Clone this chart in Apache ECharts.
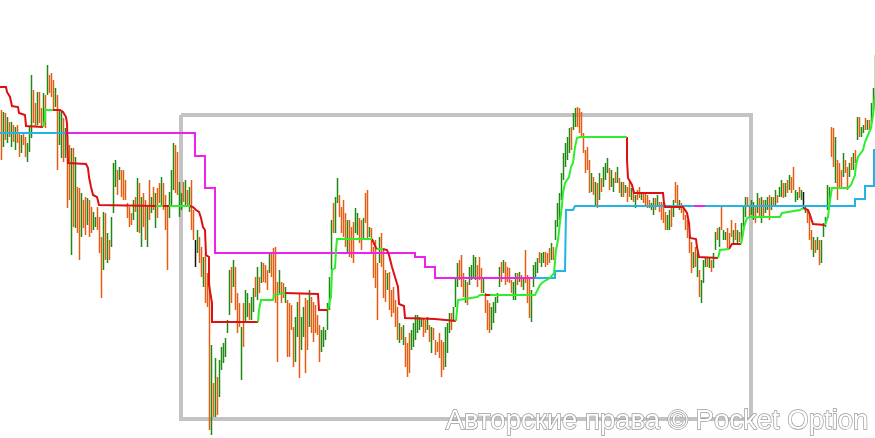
<!DOCTYPE html>
<html>
<head>
<meta charset="utf-8">
<script src="https://cdn.jsdelivr.net/npm/echarts@6/dist/echarts.min.js"></script>
<style>
  html, body { margin: 0; padding: 0; background: #fff; }
  #chart { width: 875px; height: 438px; }
</style>
</head>
<body>
<div id="chart"></div>
<script>
// price bars: top / bottom of every bar (axis units, y axis inverted), 0 = down, 1 = up, 2 = doji
const barTop = [
  110,112,113,117,122,122,125,127,125,132,135,133,137,143,127,75,90,103,92,92,108,93,95,65,75,73,80,88,95,110,
  112,118,128,135,145,148,148,157,187,188,193,200,197,198,200,207,212,217,207,217,237,212,213,233,240,217,163,160,170,167,
  170,170,180,203,207,213,200,197,178,183,197,193,200,
  207,180,197,187,193,188,183,177,183,195,205,192,170,143,145,152,182,193,182,180,190,187,180,210,240,230,237,247,257,253,
  273,283,345,383,358,377,360,347,343,338,320,270,267,260,267,293,303,327,303,290,293,303,297,288,277,267,277,262,263,265,
  270,253,252,248,247,282,270,282,283,287,300,303,305,
  327,317,302,293,317,307,298,300,290,297,302,305,315,325,330,327,330,303,277,220,203,197,178,195,207,200,213,220,220,227,
  222,208,213,218,220,218,193,190,227,228,247,240,263,237,233,250,270,273,272,290,287,300,307,323,327,325,337,343,333,330,
  323,315,315,317,318,318,320,317,325,327,328,340,342,
  333,340,342,327,323,313,313,307,277,263,260,255,273,280,282,267,265,255,257,265,257,268,277,293,300,303,307,302,297,293,
  267,262,260,262,267,268,280,282,273,273,272,275,277,250,275,277,290,265,262,258,252,253,252,252,253,248,243,247,220,203,
  193,173,153,143,137,128,127,113,108,107,108,112,133,
  150,147,160,173,177,182,183,173,178,167,163,158,168,170,178,172,167,178,182,182,185,187,182,188,190,195,190,187,192,192,
  193,195,200,203,198,198,195,202,202,203,212,215,210,207,200,182,185,200,203,208,215,220,235,242,252,247,253,270,280,260,
  257,257,258,260,253,232,228,227,207,230,232,228,233,
  220,230,223,230,232,223,207,197,197,205,200,202,207,193,198,197,200,200,197,195,197,197,190,195,187,180,183,183,180,175,
  177,167,190,192,187,190,192,205,210,213,230,237,240,237,240,240,223,217,185,187,127,128,137,160,163,170,153,160,167,163,
  157,153,150,117,117,127,125,118,120,120,103,88,55
];
const barBottom = [
  160,147,140,143,137,147,142,150,143,157,153,145,157,162,152,138,123,127,125,123,128,127,128,95,93,97,110,107,170,145,
  158,162,158,208,200,255,227,228,233,260,237,228,235,225,237,233,230,227,230,253,298,270,260,263,260,247,213,187,195,180,
  197,200,200,218,227,225,220,212,232,233,247,227,240,
  247,220,213,210,228,218,203,207,210,230,270,218,207,190,193,195,217,210,202,205,207,212,230,240,267,253,263,277,287,303,
  307,430,435,417,417,415,397,370,363,357,333,315,303,287,310,333,327,380,347,323,317,320,320,312,297,300,293,283,282,283,
  290,273,277,297,303,362,293,303,298,303,357,357,330,
  367,362,337,378,350,337,373,350,327,333,342,333,335,362,352,347,340,330,310,270,233,233,203,217,233,237,247,253,257,258,
  263,233,235,243,250,238,223,238,237,252,278,288,320,263,267,298,302,290,310,317,313,327,340,343,340,345,367,377,373,350,
  347,340,333,330,327,337,333,330,342,353,340,355,352,
  358,377,370,367,353,333,330,320,307,287,280,287,297,303,305,285,280,277,280,287,280,293,293,313,330,333,330,323,313,303,
  287,282,273,285,282,283,293,300,300,285,282,287,290,283,303,318,322,287,277,273,263,267,263,267,265,263,260,260,240,227,
  220,200,180,167,160,153,150,130,127,127,133,137,153,
  173,170,193,192,195,207,208,200,192,187,180,173,190,187,192,183,183,193,197,197,193,202,197,200,202,208,200,198,200,203,
  205,208,208,210,215,210,205,212,220,223,230,230,230,227,217,203,207,210,213,220,230,238,253,273,268,267,277,297,303,283,
  267,267,268,272,268,250,240,247,230,240,240,248,247,
  237,243,240,243,242,240,227,217,207,217,215,220,223,213,217,223,217,213,210,220,210,207,207,203,197,197,198,197,193,190,
  193,190,202,200,198,200,208,213,223,240,250,257,253,250,265,263,237,227,210,207,157,167,183,200,188,187,177,173,190,177,
  170,170,163,140,137,137,133,130,130,130,122,110,107
];
const barDir = [
  0,1,0,1,0,1,0,1,0,0,1,0,0,1,1,1,0,0,1,0,0,1,0,1,0,0,0,1,0,1,
  1,0,1,0,0,1,0,1,0,0,1,0,0,1,0,0,1,1,0,0,0,1,0,1,0,1,1,1,0,1,
  0,0,0,0,0,0,1,0,1,0,1,0,0,
  1,0,1,0,1,0,0,1,0,0,0,1,1,1,0,0,1,1,0,1,0,1,0,0,2,1,0,0,1,0,
  0,0,1,0,1,0,1,1,1,1,1,1,0,1,0,0,0,1,0,1,1,0,1,1,0,1,0,1,0,0,
  0,1,0,0,0,0,1,0,0,1,0,0,0,
  0,1,1,0,1,1,0,0,1,0,0,0,0,0,1,1,1,1,1,1,0,1,1,0,0,0,0,1,0,0,
  0,1,1,0,0,1,0,0,1,0,0,0,0,1,0,0,0,1,0,0,0,0,0,1,0,1,0,0,0,1,
  1,1,1,1,1,0,0,1,0,1,0,0,0,
  0,0,0,1,1,1,0,1,1,1,0,0,0,1,0,1,1,1,1,0,0,0,1,0,0,0,1,1,1,1,
  1,0,1,0,0,0,0,1,1,0,1,0,1,0,0,0,1,1,1,1,0,1,1,0,0,0,1,0,1,1,
  1,1,1,1,1,1,0,1,1,0,0,0,0,
  0,0,0,1,0,1,0,1,0,1,1,1,0,1,1,0,1,0,1,0,1,0,0,1,0,1,0,0,1,0,
  0,0,0,1,1,0,1,0,0,0,0,1,1,0,1,0,0,1,0,0,0,0,0,0,1,0,1,0,1,1,
  1,0,1,0,1,1,0,1,0,1,1,0,0,
  0,1,0,1,0,1,1,1,0,0,1,1,0,1,0,1,0,1,1,0,1,0,1,0,1,1,0,1,0,1,
  0,0,1,1,0,1,2,1,0,0,0,1,0,1,0,1,1,1,1,1,0,0,1,0,0,0,1,0,0,1,
  0,1,0,1,0,1,1,0,1,0,1,1,1
];

// fast trailing line (red while falling, green while rising)
const fastRedSegs = [
  [[0,87],[6,87],[7,92],[10,97],[12,106],[18,107],[19,113],[25,115],[26,126],[27,127],[43,127]],
  [[53,110],[60,110],[63,112],[66,117],[67,123],[68,163],[86,164],[88,168],[89,177],[91,187],[93,195],[97,197],[99,205],[100,206],[156,206]],
  [[163,206],[169,206]],
  [[190,206],[193,207],[196,210],[199,212],[201,218],[203,227],[205,230],[206,255],[209,257],[209,285],[212,303],[212,322],[258,322]],
  [[285,293],[318,294],[319,310],[328,310]],
  [[372,239],[374,240],[376,248],[377,249]],
  [[383,249],[387,250],[389,255],[392,267],[395,277],[398,287],[399,304],[404,306],[405,318],[406,319],[435,319],[436,321],[456,321]],
  [[485,295],[490,295]],
  [[627,137],[627,160],[628,178],[632,185],[634,193],[663,193],[664,203],[665,207],[683,207],[687,213],[689,223],[690,238],[696,239],[697,247],[699,257],[700,258],[718,258]],
  [[729,249],[732,244],[741,244]],
  [[803,208],[805,209],[808,210],[810,215],[813,224],[825,225]]
];
const fastGreenSegs = [
  [[43,127],[45,120],[45,110],[53,110]],
  [[156,206],[163,206]],
  [[169,206],[190,206]],
  [[258,322],[259,310],[261,300],[273,300],[274,295],[276,293],[285,293]],
  [[328,310],[330,300],[331,297],[332,270],[335,268],[336,250],[337,239],[372,239]],
  [[377,249],[383,249]],
  [[456,321],[458,300],[460,298],[477,297],[480,295],[485,295]],
  [[490,295],[535,295],[537,293],[540,285],[543,282],[550,278],[554,273],[556,250],[558,240],[560,222],[562,205],[563,193],[565,183],[569,177],[571,167],[573,163],[575,147],[577,138],[580,137],[627,137]],
  [[718,258],[720,250],[722,249],[729,249]],
  [[741,244],[743,234],[744,227],[747,218],[750,217],[780,217],[782,213],[783,211],[800,210],[803,208]],
  [[825,225],[827,223],[828,217],[830,200],[832,188],[848,188],[851,185],[853,183],[855,175],[856,165],[858,157],[863,150],[865,142],[868,135],[871,128],[873,115],[875,95]]
];

// slow trailing line (magenta while falling, cyan while rising)
const slowMagentaSegs = [
  [[65,133],[195,133],[195,156],[205,156],[205,188],[215,188],[215,253],[415,253],[415,257],[425,257],[425,267],[435,267],[435,278],[535,278]],
  [[694,206],[705,206]]
];
const slowCyanSegs = [
  [[0,133],[65,133]],
  [[535,278],[555,278],[555,271],[565,271],[566,210],[573,210],[575,206],[694,206]],
  [[705,206],[855,206],[855,199],[865,199],[865,186],[874,186],[874,150],[875,150]]
];

// highlighted zone
const boxPath = [[181,115],[751,115],[751,419],[181,419],[181,115]];

const barColors = ['#e65c10', '#1f8a12', '#111111'];

const chart = echarts.init(document.getElementById('chart'));

function lineSeries(segs, color, z) {
  return segs.map(function (pts) {
    return {
      type: 'line',
      data: pts,
      symbol: 'none',
      silent: true,
      z: z,
      lineStyle: { color: color, width: 2, join: 'miter' }
    };
  });
}

const series = [
  {
    type: 'line',
    data: boxPath,
    symbol: 'none',
    silent: true,
    z: 1,
    lineStyle: { color: '#c3c3c3', width: 4, join: 'miter' }
  },
  {
    type: 'custom',
    z: 2,
    silent: true,
    data: barTop.map(function (t, i) { return [i * 2 + 1.5, t, barBottom[i], barDir[i]]; }),
    renderItem: function (params, api) {
      const a = api.coord([api.value(0), api.value(1)]);
      const b = api.coord([api.value(0), api.value(2)]);
      const y = Math.round(a[1]);
      return {
        type: 'rect',
        shape: { x: Math.floor(a[0]) - 0.25, y: y, width: 1.5, height: Math.max(1, Math.round(b[1]) - y) },
        style: { fill: barColors[api.value(3)] }
      };
    }
  }
].concat(
  lineSeries(slowMagentaSegs, '#ee22ee', 3),
  lineSeries(slowCyanSegs, '#22b4e6', 3),
  lineSeries(fastRedSegs, '#dd1111', 4),
  lineSeries(fastGreenSegs, '#2cee2c', 4)
);

chart.setOption({
  animation: false,
  backgroundColor: '#ffffff',
  grid: { left: 0, right: 0, top: 0, bottom: 0 },
  xAxis: { type: 'value', min: 0, max: 875, show: false },
  yAxis: { type: 'value', min: 0, max: 438, inverse: true, show: false },
  graphic: [{
    type: 'text',
    left: 445,
    top: 407,
    z: 10,
    style: {
      text: 'Авторские права © Pocket Option',
      font: '27.5px "Liberation Sans", Arial, sans-serif',
      fill: '#ffffff',
      stroke: '#999999',
      lineWidth: 1.4
    }
  }],
  series: series
});
</script>
</body>
</html>
